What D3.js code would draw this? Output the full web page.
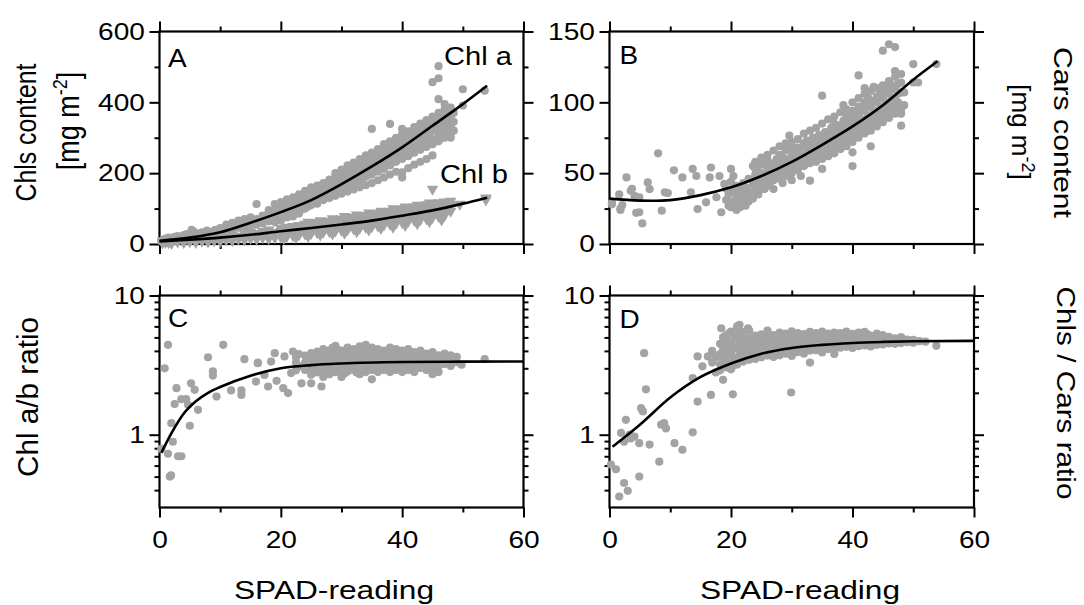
<!DOCTYPE html>
<html>
<head>
<meta charset="utf-8">
<script src="https://cdn.jsdelivr.net/npm/d3@7"></script>
<style>
body { margin: 0; background: #fff; }
svg { display: block; font-family: "Liberation Sans", Arial, sans-serif; }
</style>
</head>
<body>
<svg id="chart" width="1084" height="605"></svg>
<script>
// ---- data: [SPAD, [values...]] ----
var xTicks = [0, 20, 40, 60], xMinor = [10, 30, 50];

var chlaPts = [
  [0.3,[8]],[0.6,[12,5]],[1,[15,9]],[1.5,[18,11]],[2,[6,14]],[2.5,[20,10]],[3,[16,22,12]],[3.5,[18,12]],
  [4,[25,14]],[4.5,[20,28]],[5,[17,24]],[5.3,[40]],[5.6,[36,22]],[6.2,[26,30]],[7,[20,33]],[7.8,[28,38]],
  [8.5,[24,34]],[9.2,[40,30]],[10,[45,33,28]],[11,[40,48,55]],[12,[44,60,38]],[13,[50,66,46]],
  [14,[55,70,48,62]],[15,[52,64,75]],[16,[60,113,70,55]],[17,[66,80,72,58]],[18,[72,88,64,96]],
  [19,[78,95,113,62,86]],[19.5,[90,72,102]],[20,[84,118,66,96,108]],[20.5,[92,80,112,100]],
  [21,[98,126,75,88,108]],[21.5,[104,94,116,84]],[22,[100,132,78,112,121]],[22.5,[108,96,125,116]],
  [23,[114,140,86,104,128]],[23.5,[120,110,133,98]],[24,[118,150,100,128,138,112]],[24.5,[124,134,106,145]],
  [25,[128,160,110,138,120,148]],[25.5,[134,126,152,116]],[26,[131,165,114,146,140,122,156]],
  [26.5,[140,150,128,162]],[27,[138,172,124,152,146,160,132]],[27.5,[146,156,134,168]],
  [28,[150,182,130,162,140,172,156]],[28.5,[154,166,144,178]],[29,[158,192,136,172,148,182,200]],
  [29.5,[164,176,150,186]],[30,[166,198,142,178,156,188,210,172]],[30.5,[172,184,160,196]],
  [31,[176,206,148,190,164,198,222,182]],[31.5,[180,194,168,208]],[32,[186,216,154,200,172,208,230,192]],
  [32.5,[190,204,178,220]],[33,[196,226,160,210,180,218,240,175]],[33.5,[200,214,186,232]],
  [34,[206,236,166,220,190,228,250,198]],[34.5,[212,224,196,242]],[35,[214,246,172,232,196,238,258,205,325]],
  [35.5,[222,236,206,252]],[36,[228,256,180,242,204,248,268,214]],[36.5,[232,246,214,262]],
  [37,[236,266,188,252,212,260,282,224]],[37.5,[242,256,224,272]],[38,[250,276,196,262,222,270,290,232,339]],
  [38.5,[254,266,232,284]],[39,[258,286,204,272,232,280,300,244]],[39.5,[264,278,242,294]],
  [40,[268,296,188,202,282,240,310,252,325]],[40.5,[274,288,250,304]],[41,[280,306,214,292,248,318,262]],
  [41.5,[286,298,258,314]],[42,[290,318,224,302,258,330,272]],[42.5,[296,308,268,324]],
  [43,[300,328,232,314,266,340,282]],[43.5,[306,320,276,334]],[44,[310,338,240,324,274,350,290]],
  [44.5,[316,330,284,344]],[45,[320,348,250,334,282,360,296,457]],[45.5,[326,340,290,356]],
  [46,[330,355,290,344,310,370,502,468,409]],[46.5,[334,350,300,364]],[47,[338,365,300,352,318,380,395]],
  [47.5,[340,356,310,372]],[48,[330,345,360,385,300,310]],[48.5,[345,370,320]],[50,[437,391]],[53.6,[433]]
];
var chlbPts = [
  [0.5,[3,8]],[1,[5,10]],[1.5,[4,12]],[2,[2,9,14]],[3,[6,11]],[4,[4,9,15]],[5,[7,13]],[6,[5,11,18]],
  [7,[8,15]],[8,[6,12,20]],[9,[10,16]],[10,[8,14,22]],[11,[12,19]],[12,[10,17,26]],[13,[14,22]],
  [14,[12,20,30]],[15,[16,25,34]],[16,[14,22,30]],[17,[18,26,36]],[18,[20,30,15,40]],[19,[22,33,18]],
  [20,[25,36,44,20]],[20.5,[31,40,16]],[21,[27,38,48,22]],[22,[29,41,50,24]],[22.5,[35,45,19]],
  [23,[30,43,53,26]],[24,[33,45,56,28]],[24.5,[39,50,22,62]],[25,[34,47,59,30]],[26,[37,49,61,32,43]],
  [26.5,[45,54,26,66]],[27,[38,52,63,34,46]],[28,[41,53,65,35,48]],[28.5,[50,59,29,72]],
  [29,[42,57,68,37,49]],[30,[45,58,71,39,53]],[30.5,[50,64,31,78]],[31,[46,61,73,41,55]],
  [32,[49,62,76,43,57]],[32.5,[54,68,35,82]],[33,[50,66,79,45,59]],[34,[53,68,81,47,61]],
  [34.5,[58,74,40,88]],[35,[55,71,84,49,64]],[36,[58,73,87,51,67]],[36.5,[63,79,44,93]],
  [37,[60,76,90,54,69]],[38,[63,79,93,56,72]],[38.5,[68,85,48,100]],[39,[66,82,96,59,75]],
  [40,[69,85,99,61,78]],[40.5,[74,90,53,105]],[41,[71,88,102,64,81]],[42,[74,91,105,67,84]],
  [42.5,[80,97,58,110]],[43,[77,94,108,69,87]],[44,[80,97,111,72,90]],[44.5,[86,103,63,116]],
  [45,[83,100,114,75,93,155]],[46,[86,103,117,78,96]],[46.5,[92,109,68]],[47,[89,106,119,81]],
  [48,[93,109,121]],[49.5,[113]],[53.8,[130,125]]
];
var carsPts = [
  [0.4,[29,28]],[1.6,[35]],[1.8,[24,25]],[2.1,[27.5]],[2.8,[47]],[3.5,[37.6]],[3.7,[39]],[4.1,[34]],
  [4.4,[22]],[4.9,[33,22.4]],[5.4,[14.5]],[6.3,[43.5]],[6.6,[38.8]],[8,[64]],[8.6,[23.5]],[9.1,[36.5]],
  [9.6,[36]],[10.6,[52]],[12,[47]],[13.4,[36.5]],[13.7,[53]],[14.3,[48]],[14.5,[24.7]],[15.9,[29.4]],
  [16.5,[47]],[16.7,[54]],[17.6,[33]],[18.1,[48]],[18.4,[22.4]],[18.9,[42.4]],[19.2,[31,39]],
  [19.6,[27,35]],[20,[26,44,53]],[20.4,[30,37,48]],[20.9,[28,33,41,24]],[21.5,[31,38,26]],
  [22,[29,35,43]],[22.4,[33,27,40]],[22.9,[34,46,30,37]],[23.6,[55,32,42]],
  [24,[41,49,37,53,45,58]],[24.5,[44,35,51]],[25,[47,39,56,43,61]],[25.5,[50,42,38.8]],
  [26,[46,54,41,59,63]],[26.5,[52,44,48]],[27,[49,57,38.8,53,66,45]],[27.5,[55,47,60]],
  [28,[51,58,46,63,69,54]],[28.5,[56,50,61,43]],[29,[53,60,66,48,71]],[29.6,[76.5,57]],
  [30,[55,62,50,67,59,45,72]],[30.5,[58,64,53]],[31,[60,56,68,52,74,63]],[31.5,[62,57,66,48]],
  [32,[59,65,71,55,78,62]],[32.5,[64,68,58,73]],[33,[61,67,72,44.7,57,80,64]],[33.5,[66,70,60,75]],
  [34,[63,69,74,58,82,66]],[34.5,[68,72,77,62]],[35,[65,71,104.7,53,76,60,85,69]],[35.5,[70,74,79,66]],
  [36,[67,73,78,62,88,71]],[36.5,[72,76,82,68]],[37,[69,75,80,64,90,85,73]],[37.5,[74,78,84,70]],
  [38,[72,77,83,67,93,80]],[38.5,[76,81,87,72,98]],[39,[74,79,86,69,95,90]],[39.5,[78,84,91,75]],
  [40,[55,64.7,77,82,89,72,100,94]],[40.5,[81,86,92,77]],[41,[119,80,85,91,75,103,97]],
  [41.5,[84,88,95,79]],[42,[82,87,94,78,106,100,110]],[42.5,[86,91,98,82,104]],
  [43,[69,85,90,97,80,108,101]],[43.5,[89,94,101,86,111]],[44,[88,93,100,83,110,104]],
  [44.5,[91,97,105,87]],[45,[136.5,90,96,103,86,112,107]],[45.5,[95,100,108,92]],
  [46,[141,94,99,106,89,115,110]],[46.5,[97,103,112,93]],[47,[139,122,96,102,109,92,118]],
  [47.5,[100,106,113]],[48,[83.5,92,95,107,114,120]],[48.5,[107,98]],[50,[127,114]],[50.8,[114]],[53.8,[127]]
];
var abPts = [
  [0.3,[0.79]],[0.85,[3.0]],[1.4,[4.42,0.73]],[1.7,[0.50]],[1.9,[0.51]],[1.95,[1.21]],[2.2,[0.89]],
  [2.5,[1.66]],[2.8,[2.16]],[3.05,[0.70]],[3.6,[0.70,1.80]],[4.4,[1.80]],[4.7,[1.64]],[5.0,[1.16]],
  [5.2,[2.34]],[5.8,[2.10]],[6.35,[1.51]],[8,[3.6]],[8.8,[2.85,2.66]],[9.4,[1.88]],[10.5,[4.42]],
  [11.8,[2.08]],[13.5,[2.08,1.93]],[14,[3.49]],[15.9,[2.41]],[16.2,[3.30,3.26]],[17.3,[2.69]],
  [17.9,[2.22]],[18.4,[3.35]],[19,[3.85]],[19.3,[2.44]],[20.4,[2.16]],[20.6,[3.65]],[21.2,[1.99]],
  [21.7,[2.77]],[22,[3.96]],[22.5,[3.3,3.6,2.9]],[23,[3.1,3.8]],[23.4,[2.34]],[24,[2.92,3.3,3.7]],
  [25,[2.34,3.05,3.45,3.85,2.7]],[25.5,[3.2,3.6]],[26,[3.1,3.55,2.8,3.95]],[26.5,[3.35,2.95,3.75]],
  [26.7,[2.22]],[27,[3.22,3.62,2.88,4.12,2.6]],[27.5,[3.4,3.0,3.8]],[28,[3.05,3.45,3.85,2.72,4.02]],
  [28.5,[3.25,3.62,2.9,4.2]],[29,[3.12,3.52,3.92,2.82,4.35,3.32]],[29.5,[3.0,3.7,4.05]],
  [30,[3.22,3.62,2.92,4.02,3.42,2.6]],[30.5,[3.3,3.85,2.75]],[31,[3.02,3.35,3.72,4.22,2.85,3.52]],
  [31.5,[3.15,3.9,3.45]],[32,[3.12,3.42,3.82,2.92,4.12,3.62]],[32.5,[3.3,3.7,2.8,4.0]],
  [33,[3.22,3.52,3.92,2.72,4.32,3.02]],[33.5,[3.4,3.8,3.1]],[34,[3.02,3.32,3.72,2.82,4.02,3.52,4.42]],
  [34.5,[3.2,3.6,3.9,2.95]],[35,[3.12,3.42,3.82,2.92,4.22,3.62,2.5]],[35.5,[3.3,3.7,4.05]],
  [36,[3.22,3.52,3.92,3.02,4.12,2.82]],[36.5,[3.4,3.75,3.1]],[37,[3.02,3.32,3.72,2.92,4.02,3.52]],
  [37.5,[3.2,3.6,3.9]],[38,[3.12,3.42,3.82,2.82,4.22,3.62]],[38.5,[3.3,3.7,2.95]],
  [39,[3.22,3.52,3.92,3.02,4.12,2.92]],[39.5,[3.4,3.8,3.1]],[40,[3.02,3.32,3.72,2.82,4.02,3.62]],
  [40.5,[3.2,3.55,3.9]],[41,[3.12,3.42,3.82,2.92,4.12]],[41.5,[3.3,3.65,3.0]],
  [42,[3.22,3.52,3.92,3.02,2.82]],[42.5,[3.4,3.75]],[43,[3.02,3.32,3.72,4.02,3.52]],
  [44,[3.12,3.42,3.82,2.92,3.62]],[44.5,[3.3,3.7]],[45,[3.22,3.52,3.92,3.02,2.72]],
  [46,[3.12,3.42,3.72,2.82]],[47,[3.22,3.52,3.82]],[48,[3.12,3.42,3.72]],[49,[3.32,3.62]],
  [49.8,[3.18]],[53.6,[3.49]]
];
var ratioPts = [
  [0.25,[0.61]],[1.07,[0.565]],[1.6,[0.36]],[1.9,[1.03]],[2.4,[0.45,0.89]],[2.7,[1.28]],[3.0,[0.395]],
  [3.3,[1.0]],[3.5,[0.94]],[4.1,[0.97]],[4.9,[0.87,0.50]],[5.2,[1.55]],[5.5,[1.47]],[5.7,[3.85]],
  [6,[2.12]],[6.6,[0.85]],[8.2,[0.64]],[8.5,[1.18]],[9,[1.21]],[9.3,[1.11]],[10.7,[0.87]],[12,[0.78]],
  [13.7,[1.04,2.55]],[14.5,[1.73,3.65]],[15.3,[3.1]],[16.2,[3.65]],[16.7,[1.93]],[16.9,[3.3,4.0]],
  [17.5,[2.8,3.6]],[18.2,[3.2,3.8,4.5,2.9]],[18.4,[5.82]],
  [18.7,[2.48,3.5,4.2,5.0]],[19.2,[3.4,4.05,4.8,3.05,5.2]],[19.5,[3.7,4.4]],[19.7,[5.37]],
  [20,[3.3,3.9,4.6,5.5,2.95]],[20.3,[1.95]],[20.5,[3.6,4.3,5.1,3.15]],[21,[3.5,4.15,4.9,5.8,3.2,6.0]],
  [21.4,[6.15]],[21.5,[3.8,4.5,5.3,3.4]],[22,[3.65,4.25,5.0,3.35,5.45]],[22.5,[3.9,4.6,3.55]],
  [22.8,[5.82]],[23,[3.75,4.35,4.95,3.45,5.6]],[23.5,[4.05,4.7,3.6]],[24,[3.85,4.45,5.15,3.5,4.1]],
  [24.5,[4.2,4.8,3.7]],[25,[3.95,4.55,5.25,3.6,4.15]],[25.5,[4.3,4.9,3.8]],[26,[4.05,4.65,5.35,3.7,5.6]],
  [26.5,[4.4,5.0,3.85]],[27,[4.0,4.75,5.2,3.62,4.3]],[27.5,[4.5,5.1,3.9]],[28,[4.12,4.62,5.42,3.72,4.92]],
  [28.5,[4.35,5.05,3.95]],[29,[4.22,4.82,5.32,3.82,4.45]],[29.5,[4.6,5.15,4.05]],[29.9,[2.01]],
  [30,[4.18,4.72,5.52,3.68,4.02]],[30.5,[4.48,5.0,3.9]],[31,[4.32,4.88,5.38,3.92,4.52]],
  [31.5,[4.62,5.12,4.1]],[32,[4.28,4.78,5.28,3.82,4.58]],[32.5,[4.5,5.05,4.15]],
  [33,[4.42,4.92,5.48,4.02,3.3]],[33.5,[4.7,5.2,4.25]],[34,[4.38,4.98,5.36,4.05,4.62]],
  [34.5,[4.55,5.1,4.2]],[35,[4.48,4.9,5.5,3.9,4.22]],[35.5,[4.68,5.18,4.3]],
  [36,[4.52,5.02,5.32,4.12,4.72]],[36.5,[4.6,5.25,4.35]],[37,[4.45,4.98,5.42,4.18,3.8]],
  [37.5,[4.72,5.12,4.38]],[38,[4.58,5.08,5.38,4.22,4.82]],[38.5,[4.66,5.22,4.4]],
  [39,[4.62,4.96,5.5,4.28]],[39.5,[4.78,5.15,4.45]],[40,[4.55,5.05,5.3,4.2,4.85]],[40.5,[4.7,5.2,4.4]],
  [41,[4.62,5.1,5.42,4.32]],[41.5,[4.8,5.0,4.5]],[42,[4.68,4.98,5.48,4.38]],[42.5,[4.85,5.25,4.55]],
  [43,[4.72,5.12,4.3,4.92]],[44,[4.66,5.02,5.32,4.42]],[44.5,[4.82,5.15]],[45,[4.74,4.98,4.45,5.2]],
  [46,[4.68,5.04,4.52]],[46.5,[4.85,4.6]],[47,[4.72,4.92,4.5]],[48,[4.76,5.02,4.55]],[49,[4.82,4.62]],
  [50,[4.58,4.8]],[51,[4.7]],[52,[4.66]],[53.8,[4.35]]
];

// fitted curves, read at a few SPAD values
var fitXab = [0, 5, 10, 15, 20, 25, 30, 35, 40, 45, 50, 54];
var fitChla = [9, 18, 33, 60, 90, 124, 169, 219, 273, 334, 395, 447];
var fitChlb = [7, 12, 18, 26, 36, 45, 55, 66, 80, 95, 114, 131];
var fitCars = [32, 30.6, 31, 34.5, 40, 48, 58, 70, 83, 98, 116, 129];
var fitXc = [0.3, 2, 4, 6, 8, 10, 15, 20, 25, 30, 40, 50, 60];
var fitAb = [0.74, 1.03, 1.42, 1.74, 2.0, 2.2, 2.65, 3.0, 3.16, 3.25, 3.33, 3.35, 3.36];
var fitXd = [0.5, 5, 10, 15, 20, 25, 30, 35, 40, 45, 50, 60];
var fitRatio = [0.82, 1.18, 1.85, 2.6, 3.25, 3.82, 4.2, 4.42, 4.56, 4.64, 4.69, 4.72];

var GRAY = "#a3a3a3";
var FONT = '"Liberation Sans", Arial, sans-serif';
var svg = d3.select("#chart");

function flat(groups) {
  var out = [];
  groups.forEach(function(g) { g[1].forEach(function(v) { out.push([g[0], v]); }); });
  return out;
}
function zip(xs, ys) { return xs.map(function(x, i) { return [x, ys[i]]; }); }

// draws frame + mirrored ticks, returns x scale
function panel(box, y, yMajor, yMinor, showX) {
  var x = d3.scaleLinear().domain([0, 60]).range([box.x0, box.x1]);
  var g = svg.append("g");
  function ax(axis, tx, ty) {
    var a = g.append("g").attr("transform", "translate(" + tx + "," + ty + ")").call(axis);
    a.select(".domain").remove();
    a.selectAll(".tick line").attr("stroke", "#000").attr("stroke-width", 2);
    return a;
  }
  var left = ax(d3.axisLeft(y).tickValues(yMajor).tickSize(10).tickPadding(2.5).tickFormat(d3.format("d")), box.x0, 0);
  ax(d3.axisLeft(y).tickValues(yMinor).tickSize(5).tickFormat(""), box.x0, 0);
  ax(d3.axisRight(y).tickValues(yMajor).tickSize(10).tickFormat(""), box.x1, 0);
  ax(d3.axisRight(y).tickValues(yMinor).tickSize(5).tickFormat(""), box.x1, 0);
  ax(d3.axisTop(x).tickValues(xTicks).tickSize(10).tickFormat(""), 0, box.y0);
  ax(d3.axisTop(x).tickValues(xMinor).tickSize(5).tickFormat(""), 0, box.y0);
  var bottom = ax(d3.axisBottom(x).tickValues(xTicks).tickSize(10).tickPadding(13)
    .tickFormat(showX ? d3.format("d") : ""), 0, box.y1);
  ax(d3.axisBottom(x).tickValues(xMinor).tickSize(5).tickFormat(""), 0, box.y1);
  [left, bottom].forEach(function(a) {
    a.selectAll(".tick text").attr("font-size", 24).attr("font-family", FONT)
      .attr("fill", "#000").attr("transform", "scale(1.17,1)");
  });
  g.append("rect").attr("x", box.x0).attr("y", box.y0)
    .attr("width", box.x1 - box.x0).attr("height", box.y1 - box.y0)
    .attr("fill", "none").attr("stroke", "#000").attr("stroke-width", 2.2);
  return x;
}

function dots(x, y, pts) {
  svg.append("g").selectAll("circle").data(flat(pts)).enter().append("circle")
    .attr("cx", function(d) { return x(d[0]); })
    .attr("cy", function(d) { return y(d[1]); })
    .attr("r", 4.1).attr("fill", GRAY);
}
function tris(x, y, pts) {
  var sym = d3.symbol().type(d3.symbolTriangle).size(58);
  svg.append("g").selectAll("path").data(flat(pts)).enter().append("path")
    .attr("d", sym).attr("fill", GRAY)
    .attr("transform", function(d) { return "translate(" + x(d[0]) + "," + y(d[1]) + ") rotate(180)"; });
}
function fit(x, y, xs, ys, curve) {
  var line = d3.line().x(function(d) { return x(d[0]); }).y(function(d) { return y(d[1]); })
    .curve(curve || d3.curveMonotoneX);
  svg.append("path").datum(zip(xs, ys)).attr("d", line)
    .attr("fill", "none").attr("stroke", "#000").attr("stroke-width", 2.6);
}
function label(str, tx, ty, size, sx, anchor) {
  return svg.append("text").attr("transform", "translate(" + tx + "," + ty + ") scale(" + sx + ",1)")
    .attr("font-size", size).attr("text-anchor", anchor || "start").attr("fill", "#000").text(str);
}

// ---- panel A ----
var boxA = {x0: 159.5, x1: 523.5, y0: 31.5, y1: 244};
var yA = d3.scaleLinear().domain([0, 600]).range([boxA.y1, boxA.y0]);
var xA = panel(boxA, yA, [0, 200, 400, 600], [100, 300, 500], false);
dots(xA, yA, chlaPts);
tris(xA, yA, chlbPts);
fit(xA, yA, fitXab, fitChla);
fit(xA, yA, fitXab, fitChlb);
label("A", 168, 66.5, 25, 1.12);
label("Chl a", 444, 65, 26, 1.12);
label("Chl b", 440, 183, 26, 1.12);

// ---- panel B ----
var boxB = {x0: 609.5, x1: 974, y0: 31.5, y1: 244};
var yB = d3.scaleLinear().domain([0, 150]).range([boxB.y1, boxB.y0]);
var xB = panel(boxB, yB, [0, 50, 100, 150], [25, 75, 125], false);
dots(xB, yB, carsPts);
fit(xB, yB, fitXab, fitCars, d3.curveCatmullRom);
label("B", 619.5, 63.5, 25, 1.12);

// ---- panel C ----
var logMinor = [0.4, 0.5, 0.6, 0.7, 0.8, 0.9, 2, 3, 4, 5, 6, 7, 8, 9];
var boxC = {x0: 159.5, x1: 523.5, y0: 295.5, y1: 507.5};
var yC = d3.scaleLog().domain([0.3, 10]).range([boxC.y1, boxC.y0]);
var xC = panel(boxC, yC, [1, 10], logMinor, true);
dots(xC, yC, abPts);
fit(xC, yC, fitXc, fitAb);
label("C", 168, 326.5, 25, 1.12);

// ---- panel D ----
var boxD = {x0: 609.5, x1: 974, y0: 295.5, y1: 507.5};
var yD = d3.scaleLog().domain([0.3, 10]).range([boxD.y1, boxD.y0]);
var xD = panel(boxD, yD, [1, 10], logMinor, true);
dots(xD, yD, ratioPts);
fit(xD, yD, fitXd, fitRatio);
label("D", 619.5, 328, 25, 1.12);

// ---- axis titles ----
svg.append("text").attr("transform", "translate(36,132.5) scale(1.15,1) rotate(-90)")
  .attr("font-size", 26).attr("text-anchor", "middle").attr("textLength", 138)
  .attr("lengthAdjust", "spacingAndGlyphs").text("Chls content");
var mgL = svg.append("text").attr("transform", "translate(78.5,121) scale(1.15,1) rotate(-90)")
  .attr("font-size", 27).attr("text-anchor", "middle");
mgL.append("tspan").text("[mg m");
mgL.append("tspan").attr("font-size", 18).attr("dy", -10).text("-2");
mgL.append("tspan").attr("dy", 10).text("]");

svg.append("text").attr("transform", "translate(37.5,397) scale(1.15,1) rotate(-90)")
  .attr("font-size", 26).attr("text-anchor", "middle").attr("textLength", 160)
  .attr("lengthAdjust", "spacingAndGlyphs").text("Chl a/b ratio");

svg.append("text").attr("transform", "translate(1054,132.5) rotate(90)")
  .attr("font-size", 26).attr("text-anchor", "middle").attr("textLength", 171)
  .attr("lengthAdjust", "spacingAndGlyphs").text("Cars content");
var mgR = svg.append("text").attr("transform", "translate(1012,132) rotate(90)")
  .attr("font-size", 26).attr("text-anchor", "middle");
mgR.append("tspan").text("[mg m");
mgR.append("tspan").attr("font-size", 18).attr("dy", -10).text("-2");
mgR.append("tspan").attr("dy", 10).text("]");

svg.append("text").attr("transform", "translate(1057,393) rotate(90)")
  .attr("font-size", 26).attr("text-anchor", "middle").attr("textLength", 213)
  .attr("lengthAdjust", "spacingAndGlyphs").text("Chls / Cars ratio");

[[334, "SPAD-reading"], [800, "SPAD-reading"]].forEach(function(t) {
  svg.append("text").attr("x", t[0]).attr("y", 599).attr("font-size", 26)
    .attr("text-anchor", "middle").attr("textLength", 200)
    .attr("lengthAdjust", "spacingAndGlyphs").text(t[1]);
});
</script>
</body>
</html>
